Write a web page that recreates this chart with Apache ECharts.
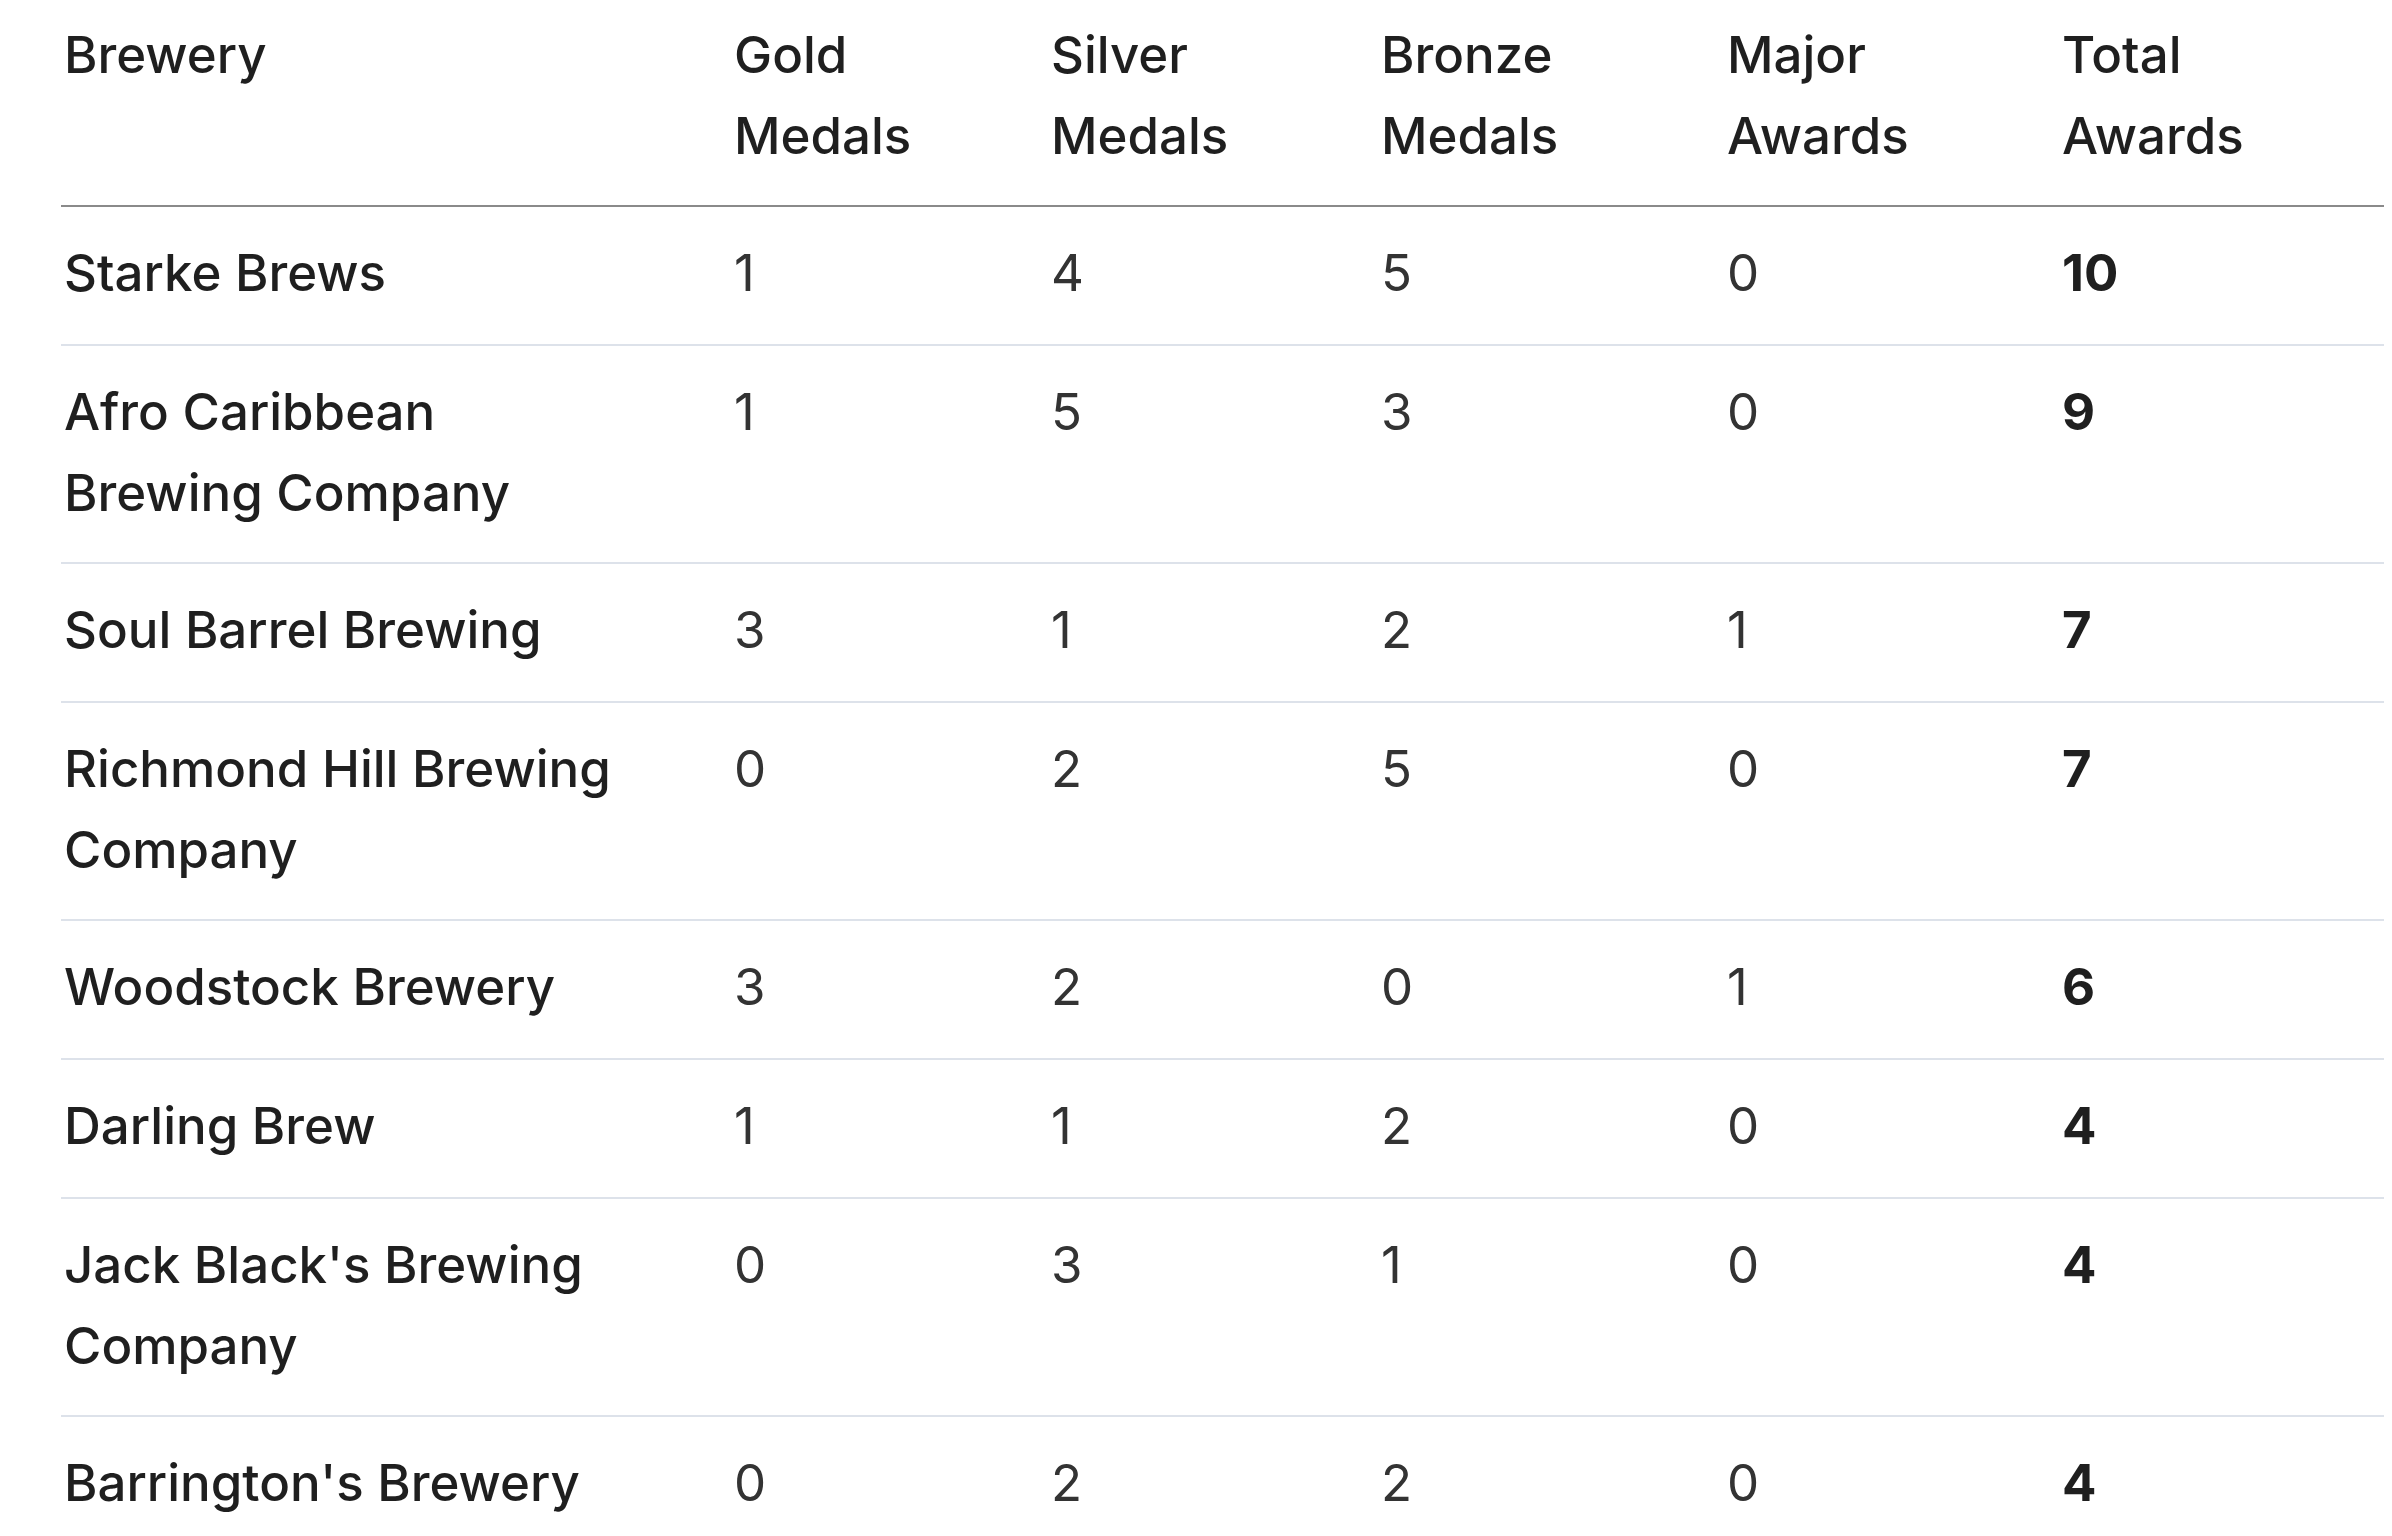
<!DOCTYPE html>
<html><head><meta charset="utf-8">
<script src="https://cdn.jsdelivr.net/npm/echarts@6/dist/echarts.min.js"></script>
<style>html,body{margin:0;padding:0;background:#fff}#c{width:2392px;height:1536px}</style>
</head><body><div id="c"></div>
<script>
const headers = ["Brewery", "Gold\nMedals", "Silver\nMedals", "Bronze\nMedals", "Major\nAwards", "Total\nAwards"];
const breweries = ["Starke Brews", "Afro Caribbean\nBrewing Company", "Soul Barrel Brewing", "Richmond Hill Brewing\nCompany", "Woodstock Brewery", "Darling Brew", "Jack Black's Brewing\nCompany", "Barrington's Brewery"];
const gold = [1, 1, 3, 0, 3, 1, 0, 0];
const silver = [4, 5, 1, 2, 2, 1, 3, 2];
const bronze = [5, 3, 2, 5, 0, 2, 1, 2];
const major = [0, 0, 1, 0, 1, 0, 0, 0];
const total = [10, 9, 7, 7, 6, 4, 4, 4];

const colX = [64, 734, 1051, 1381, 1727, 2062];
const FS = 51, LH = 81;
const g = [];
function txt(x, y, s, opts) {
  g.push({type:'text', left:x, top:y, style:Object.assign({text:String(s), fontFamily:'Inter', fontSize:FS, fill:'#1f1f1f', lineHeight:LH}, opts||{})});
}
headers.forEach((h,i)=>txt(colX[i], 58-LH/2, h, {fontWeight:500}));
g.push({type:'line', shape:{x1:61,y1:206,x2:2384,y2:206}, style:{stroke:'#8a8a8a', lineWidth:2}});
let y = 206;
breweries.forEach((b,r)=>{
  const lines = b.split('\n').length;
  const top = y + 70 - LH/2;
  txt(colX[0], top, b, {fontWeight:500});
  [gold[r], silver[r], bronze[r], major[r]].forEach((v,i)=>txt(colX[i+1], top, v, {fontWeight:400, fill:'#333'}));
  txt(colX[5], top, total[r], {fontWeight:700});
  y += lines === 1 ? 139 : 218;
  if (r < breweries.length-1) g.push({type:'line', shape:{x1:61,y1:y,x2:2384,y2:y}, style:{stroke:'#dde2ea', lineWidth:2}});
});
const chart = echarts.init(document.getElementById('c'));
chart.setOption({animation:false, graphic:g});
</script></body></html>
